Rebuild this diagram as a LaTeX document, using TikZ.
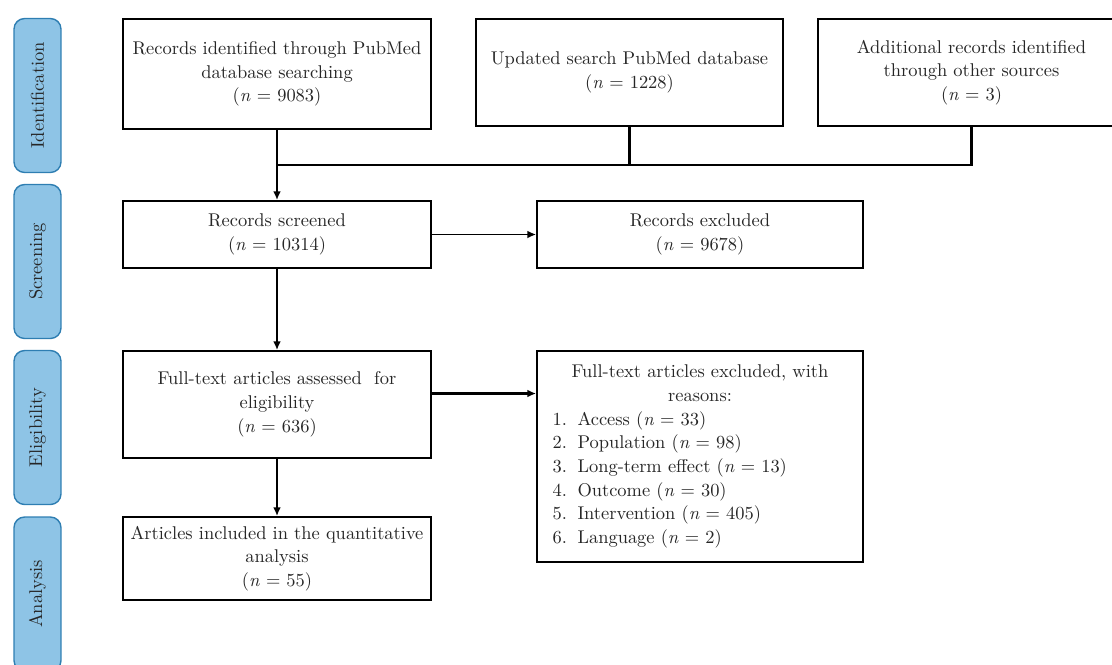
\documentclass[tikz,border=0pt]{standalone}
\usepackage{tikz}
\usetikzlibrary{arrows.meta,positioning,calc}
\definecolor{tabfill}{RGB}{142,196,230}
\definecolor{tabedge}{RGB}{46,126,178}
\newcommand{\reasonline}[2]{\makebox[5.9cm][l]{\makebox[0.5cm][l]{#1.}#2}}

\begin{document}
\begin{tikzpicture}[
    x=0.02cm, y=-0.02cm,
    box/.style={draw=black, line width=1.1pt, fill=white, align=center, inner sep=2pt, text=black!85, font=\fontsize{10.5}{13.5}\selectfont},
    tab/.style={draw=tabedge, fill=tabfill, rounded corners=6pt, line width=0.8pt, rotate=90, minimum width=3.08cm, minimum height=0.94cm, text=black!85, font=\fontsize{10.5}{12}\selectfont},
    flow/.style={-{Latex[length=5pt,width=4.5pt]}, line width=1.6pt},
    thinflow/.style={-{Latex[length=5pt,width=4.5pt]}, line width=0.9pt},
    link/.style={line width=1.2pt}
]
    \useasboundingbox (0,0) rectangle (1112,664);
    \clip (0,0) rectangle (1112,664);

    % Stage tabs on the left
    \node[tab] (tabId) at (37.5,95.5) {Identification};
    \node[tab] (tabScr) at (37.5,261.5) {Screening};
    \node[tab] (tabElig) at (37.5,427.5) {Eligibility};
    \node[tab] (tabAna) at (37.5,594) {Analysis};

    % Identification
    \node[box, minimum width=6.16cm, minimum height=2.2cm] (pubmed) at (277,74)
        {Records identified through PubMed\\database searching\\(\textit{n} = 9083)};
    \node[box, minimum width=6.14cm, minimum height=2.14cm] (update) at (629.5,72.5)
        {Updated search PubMed database\\(\textit{n} = 1228)};
    \node[box, minimum width=6.14cm, minimum height=2.14cm] (other) at (971.5,72.5)
        {Additional records identified\\through other sources\\(\textit{n} = 3)};

    % Screening
    \node[box, minimum width=6.16cm, minimum height=1.34cm] (screened) at (277,234.5)
        {Records screened\\(\textit{n} = 10314)};
    \node[box, minimum width=6.52cm, minimum height=1.34cm] (excluded) at (700,234.5)
        {Records excluded\\(\textit{n} = 9678)};

    % Eligibility
    \node[box, minimum width=6.16cm, minimum height=2.14cm] (fulltext) at (277,404.5)
        {Full-text articles assessed\ \ for\\eligibility\\(\textit{n} = 636)};
    \node[box, minimum width=6.52cm, minimum height=4.22cm] (reasons) at (700,456.5)
        {Full-text articles excluded, with\\reasons:\\
         \reasonline{1}{Access (\textit{n} = 33)}\\
         \reasonline{2}{Population (\textit{n} = 98)}\\
         \reasonline{3}{Long-term effect (\textit{n} = 13)}\\
         \reasonline{4}{Outcome (\textit{n} = 30)}\\
         \reasonline{5}{Intervention (\textit{n} = 405)}\\
         \reasonline{6}{Language (\textit{n} = 2)}};

    % Analysis
    \node[box, minimum width=6.16cm, minimum height=1.66cm] (included) at (277,558.5)
        {Articles included in the quantitative\\analysis\\(\textit{n} = 55)};

    % Connectors
    \coordinate (merge) at (277,165);
    \draw[link] (other.south) |- (merge);
    \draw[link] (update.south) -- (update.south |- merge);
    \draw[flow] (pubmed) -- (screened);
    \draw[thinflow] (screened) -- (excluded);
    \draw[flow] (screened) -- (fulltext);
    \draw[flow] ([yshift=0.22cm]fulltext.east) -- ([yshift=0.22cm]fulltext.east -| reasons.west);
    \draw[flow] (fulltext.south) -- (fulltext.south |- included.north);
\end{tikzpicture}
\end{document}
